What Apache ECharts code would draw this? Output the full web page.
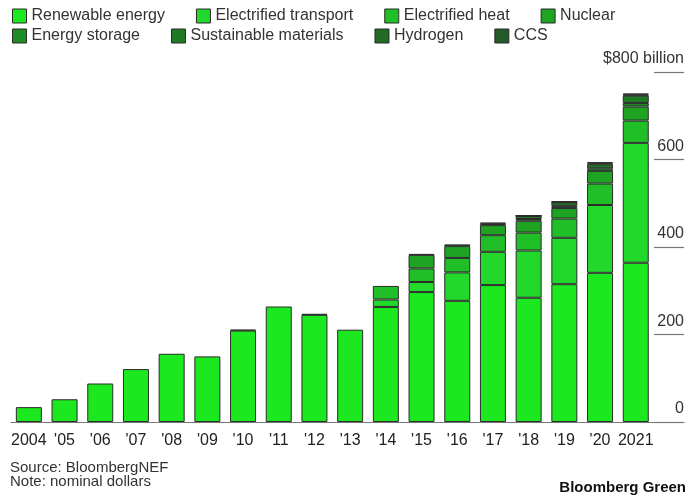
<!DOCTYPE html>
<html>
<head>
<meta charset="utf-8">
<script src="https://cdn.jsdelivr.net/npm/echarts@6/dist/echarts.min.js"></script>
<style>
  html, body { margin: 0; padding: 0; background: #fff; }
  #chart { width: 687px; height: 498px; }
</style>
</head>
<body>
<div id="chart"></div>
<script>
// ---- Data (billions of nominal USD) ----
var years = ['2004', "'05", "'06", "'07", "'08", "'09", "'10", "'11", "'12", "'13", "'14", "'15", "'16", "'17", "'18", "'19", "'20", '2021'];
var renewableEnergy      = [34, 52, 88, 121, 156, 150, 209, 264, 245, 211, 263, 297, 277, 313, 284, 315, 341, 364];
var electrifiedTransport = [null, null, null, null, null, null, 2, null, 2, null, 17, 23, 65, 76, 108, 106, 155, 274];
var electrifiedHeat      = [null, null, null, null, null, null, null, null, null, null, 31, 31, 33, 38, 41, 44, 49, 51];
var nuclear              = [null, null, null, null, null, null, null, null, null, null, null, 31, 27, 23, 27, 24, 29, 32];
var energyStorage        = [null, null, null, null, null, null, null, null, null, null, null, 2, 4, 3, 4, 5, 6, 8];
var sustainableMaterials = [null, null, null, null, null, null, null, null, null, null, null, null, null, 3, 7, 8, 9, 17];
var hydrogen             = [null, null, null, null, null, null, null, null, null, null, null, null, null, null, 0.5, 1, 2, 2];
var ccs                  = [null, null, null, null, null, null, null, null, null, null, null, null, null, null, 0.5, 1, 3, 3];
var yTicks = [0, 200, 400, 600, 800];

var seriesDefs = [
  { name: 'Renewable energy',      data: renewableEnergy,      color: '#1ce81f' },
  { name: 'Electrified transport', data: electrifiedTransport, color: '#22d82a' },
  { name: 'Electrified heat',      data: electrifiedHeat,      color: '#21bf27' },
  { name: 'Nuclear',               data: nuclear,              color: '#1ea323' },
  { name: 'Energy storage',        data: energyStorage,        color: '#1d8c22' },
  { name: 'Sustainable materials', data: sustainableMaterials, color: '#207a24' },
  { name: 'Hydrogen',              data: hydrogen,             color: '#226a25' },
  { name: 'CCS',                   data: ccs,                  color: '#245a26' }
];

var FONT = '"Liberation Sans", Arial, Helvetica, sans-serif';
var chart = echarts.init(document.getElementById('chart'), null, { renderer: 'canvas' });

var legendCommon = {
  orient: 'horizontal',
  padding: 0,
  itemWidth: 14,
  itemHeight: 14,
  itemGap: 31,
  icon: 'rect',
  selectedMode: false,
  textStyle: { fontFamily: FONT, fontSize: 16, color: '#333' },
  itemStyle: { borderColor: '#2b2b2b', borderWidth: 1 }
};

var footText = { fontFamily: FONT, fontSize: 15, fontWeight: 'normal', color: '#333' };

var option = {
  backgroundColor: '#fff',
  animation: false,
  textStyle: { fontFamily: FONT },
  legend: [
    Object.assign({}, legendCommon, { left: 12, top: 8, data: seriesDefs.slice(0, 4).map(function (s) { return s.name; }) }),
    Object.assign({}, legendCommon, { left: 12, top: 28, data: seriesDefs.slice(4).map(function (s) { return s.name; }) })
  ],
  title: [
    { text: 'Source: BloombergNEF', left: 10, top: 460, padding: 0, textStyle: footText },
    { text: 'Note: nominal dollars', left: 10, top: 474, padding: 0, textStyle: footText },
    { text: 'Bloomberg Green', right: 1, top: 480, padding: 0, textStyle: { fontFamily: FONT, fontSize: 15, fontWeight: 'bold', color: '#111' } }
  ],
  grid: [
    { left: 11, width: 642.6, top: 72, bottom: 76, containLabel: false },
    { left: 654, right: 1, top: 72, bottom: 76, containLabel: false }
  ],
  xAxis: [
    {
      type: 'category', gridIndex: 0, data: years,
      axisLine: { lineStyle: { color: '#777', width: 1.2 } },
      axisTick: { alignWithLabel: true, length: 5, lineStyle: { color: '#555' } },
      axisLabel: { fontFamily: FONT, fontSize: 16, color: '#222', margin: 11, interval: 0 }
    },
    {
      type: 'value', gridIndex: 1, min: 0, max: 1,
      axisLine: { show: true, lineStyle: { color: '#777', width: 1.2 } },
      axisTick: { show: false }, axisLabel: { show: false }, splitLine: { show: false }
    }
  ],
  yAxis: [
    {
      type: 'value', gridIndex: 0, min: 0, max: 800, interval: 200,
      axisLine: { show: false }, axisTick: { show: false }, axisLabel: { show: false }, splitLine: { show: false }
    },
    {
      type: 'value', gridIndex: 1, min: 0, max: 800, interval: 200, position: 'right',
      axisLine: { show: false }, axisTick: { show: false },
      splitLine: { show: true, lineStyle: { color: '#777', width: 1.2 } },
      axisLabel: {
        inside: true, align: 'right', verticalAlign: 'bottom', margin: 0,
        padding: [0, 0, 5, 0],
        fontFamily: FONT, fontSize: 16, color: '#333',
        formatter: function (v) { return v === yTicks[yTicks.length - 1] ? '$' + v + ' billion' : String(v); }
      }
    }
  ],
  series: seriesDefs.map(function (s) {
    return {
      name: s.name, type: 'bar', stack: 'total', xAxisIndex: 0, yAxisIndex: 0,
      data: s.data, barWidth: 26,
      itemStyle: { color: s.color, borderColor: '#2b2b2b', borderWidth: 1 },
      emphasis: { disabled: true }
    };
  })
};

chart.setOption(option);
</script>
</body>
</html>
